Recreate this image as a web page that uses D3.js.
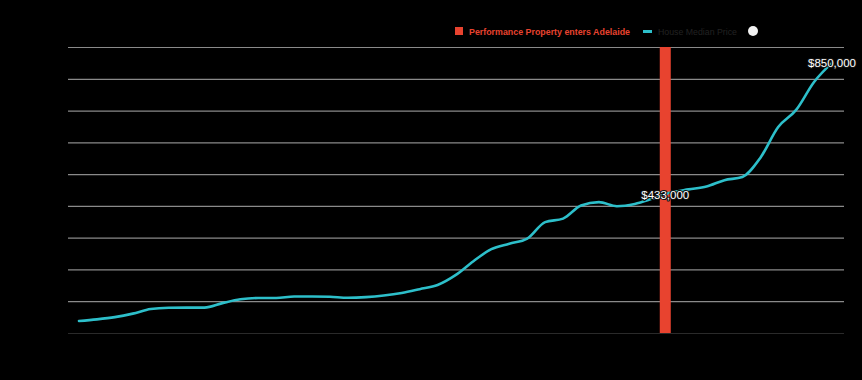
<!DOCTYPE html>
<html><head><meta charset="utf-8">
<script src="https://cdn.jsdelivr.net/npm/d3@7"></script>
<style>html,body{margin:0;padding:0;background:#000;}svg{display:block;}</style>
</head><body>
<svg id="chart" width="862" height="380"></svg>
<script>
// ---- data ----
const years = d3.range(1980, 2023);
const medianPrice = [38000, 43000, 50000, 61000, 75500, 79500, 80000, 80000, 94000, 106000,
  110000, 110000, 115000, 115000, 114000, 111000, 113000, 118000, 126000, 138000,
  151000, 182000, 226000, 264000, 281000, 297000, 349000, 360000, 401000, 412000,
  399000, 406000, 423000, 442000, 452000, 461000, 481000, 491000, 551000, 648000,
  702000, 790000, 850000];
const eventYear = 2012.7;
const eventValue = 433000;
const yTicks = [0, 100000, 200000, 300000, 400000, 500000, 600000, 700000, 800000, 900000];
const legendLabels = ["Performance Property enters Adelaide", "House Median Price"];

// ---- layout ----
const W = 862, H = 380;
const plot = {left: 68, right: 844, top: 47, bottom: 333};
const svg = d3.select("#chart");
svg.append("rect").attr("width", W).attr("height", H).attr("fill", "#000");

const x = d3.scaleLinear().domain([1980, 2022]).range([79, 832]);
const y = d3.scaleLinear().domain([0, 900000]).range([plot.bottom, plot.top]);

// gridlines
const gAxis = svg.append("g").attr("transform", `translate(${plot.left},0)`)
  .call(d3.axisLeft(y).tickValues(yTicks).tickSize(-(plot.right - plot.left)).tickFormat(""));
gAxis.select(".domain").remove();
gAxis.selectAll(".tick line")
  .attr("stroke", d => d === 0 ? "#2a2a2a" : "#8a8a8a")
  .attr("stroke-width", 1.2);

// event bar
svg.append("rect")
  .attr("x", x(eventYear) - 5.5).attr("width", 11)
  .attr("y", y(900000)).attr("height", y(0) - y(900000))
  .attr("fill", "#e8432f");

// line
const data = years.map((yr, i) => ({yr, v: medianPrice[i]}));
svg.append("path").datum(data)
  .attr("fill", "none").attr("stroke", "#2dbfca").attr("stroke-width", 2.6)
  .attr("stroke-linejoin", "round").attr("stroke-linecap", "round")
  .attr("d", d3.line().x(d => x(d.yr)).y(d => y(d.v)).curve(d3.curveMonotoneX));

// value labels
const labels = [
  {xv: eventYear, v: eventValue},
  {xv: years[years.length - 1], v: medianPrice[medianPrice.length - 1]}
];
svg.selectAll("text.vlab").data(labels).enter().append("text")
  .attr("class", "vlab")
  .attr("x", d => x(d.xv)).attr("y", d => y(d.v))
  .attr("text-anchor", "middle").attr("dominant-baseline", "central")
  .attr("font-family", "Liberation Sans, Arial, sans-serif").attr("font-size", 11.5)
  .attr("fill", "#fff").attr("stroke", "#111").attr("stroke-width", 2.2)
  .attr("paint-order", "stroke").attr("stroke-linejoin", "round")
  .text(d => "$" + d3.format(",")(d.v));

// legend
const lg = svg.append("g").attr("font-family", "Liberation Sans, Arial, sans-serif");
lg.append("rect").attr("x", 455).attr("y", 27).attr("width", 8).attr("height", 8).attr("fill", "#e8432f");
lg.append("text").attr("x", 469).attr("y", 31).attr("dominant-baseline", "central")
  .attr("font-size", 9.5).attr("font-weight", "bold").attr("fill", "#e8432f")
  .attr("textLength", 161).attr("lengthAdjust", "spacingAndGlyphs").text(legendLabels[0]);
lg.append("rect").attr("x", 643).attr("y", 30).attr("width", 9).attr("height", 3).attr("fill", "#2dbfca");
lg.append("text").attr("x", 658).attr("y", 31).attr("dominant-baseline", "central")
  .attr("font-size", 9.5).attr("fill", "#222")
  .attr("textLength", 79).attr("lengthAdjust", "spacingAndGlyphs").text(legendLabels[1]);
lg.append("circle").attr("cx", 753).attr("cy", 31).attr("r", 5).attr("fill", "#f2f2f2");
</script>
</body></html>
